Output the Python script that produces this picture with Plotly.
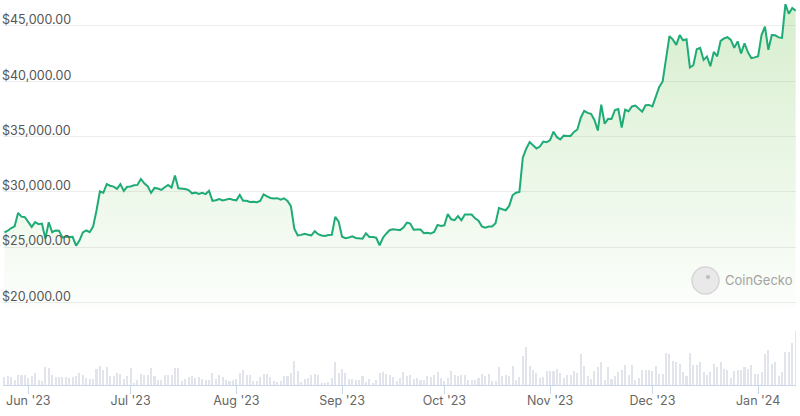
import pandas as pd
import plotly.graph_objects as go

# ---- data ----
start_date = "2023-05-25"

price_usd = [
    26330, 26480, 26720, 26870, 28090, 27750, 27700, 27220,
    26820, 27250, 27070, 27120, 25760, 27240, 26340, 26500, 26480, 25850,
    25940, 25900, 25920, 25120, 25580, 26330, 26510, 26340, 26850, 28310,
    30030, 29910, 30700, 30550, 30470, 30270, 30690, 30080, 30450, 30480,
    30590, 30620, 31160, 30770, 30510, 29900, 30350, 30290, 30170, 30410,
    30620, 30390, 31480, 30320, 30300, 30250, 30150, 29860, 29920, 29800,
    29910, 29790, 30080, 29180, 29230, 29350, 29220, 29320, 29360, 29280,
    29230,
    29710, 29190, 29180, 29070, 29090, 29060, 29180, 29770, 29580, 29440,
    29400, 29420, 29280, 29410, 29170, 28700, 26660, 26050, 26100, 26190,
    26120, 26050, 26430, 26160, 26050, 26000, 26090, 26110, 27730, 27300,
    25930,
    25800, 25870, 25970, 25820, 25790, 25760, 26240, 25910, 25900, 25840,
    25160, 25840, 26230, 26540, 26610, 26570, 26530, 26760, 27210, 27130,
    26570, 26580, 26580, 26250, 26300, 26220, 26370, 26990, 26910, 26970,
    27990, 27510, 27430, 27800, 27420, 27950, 27970, 27940, 27600, 27390,
    26870, 26760, 26860, 26860, 27160, 28520, 28420, 28330, 28720, 29680,
    29920, 29990, 33090, 33900, 34500, 34160, 33910, 34090, 34540, 34480,
    34670,
    35440, 34940, 34730, 35080, 35050, 35050, 35420, 35640, 36700, 37320,
    37140, 37060, 36500, 35540, 37880, 36160, 36600, 36580, 37390, 37480,
    35810, 37420, 37290, 37720, 37800, 37480, 37250, 37830, 37860, 37720,
    38690, 39480, 39980, 41990, 44080, 43770, 43290, 44170, 43710, 43790,
    41240, 41450, 42890, 43020, 41930, 42240, 41360, 42660, 42260, 43650,
    43870, 43990, 43740, 43020, 43610, 42520, 43440, 42630, 42100, 42160,
    42260,
    44180, 44950, 42850, 44180, 44160, 43970, 43930, 46970, 46110, 46630,
    46370,
]

volume_bn = [
    8.0,
    8.7, 8.0, 4.7, 10.3, 10.3, 10.3, 7.0, 9.3, 12.0, 5.3, 4.3, 17.7, 17.0, 9.7,
    8.0, 8.0, 8.0, 8.0, 7.0, 8.0, 9.3, 12.0, 10.3, 7.0, 6.0, 6.0, 16.0, 18.7,
    15.3, 18.0, 9.3, 9.3, 12.0, 11.3, 6.0, 8.7, 17.0, 2.0, 4.7, 11.0, 9.7, 10.3,
    17.0, 9.3, 4.7, 5.3, 9.7, 10.3, 10.3, 17.0, 17.0, 4.3, 6.0, 8.0, 9.3, 7.0,
    8.0, 6.0, 5.3, 5.3, 12.0, 6.0, 10.3, 8.0, 5.3, 4.3, 5.3, 6.0, 12.0, 15.3,
    10.3, 9.7, 3.7, 3.7, 8.0, 11.3, 11.3, 8.0, 3.7, 2.7, 3.7, 9.3, 9.3, 12.0,
    24.3, 13.7, 2.7, 6.0, 7.0, 10.3, 11.3, 10.3, 2.0, 2.0, 2.7, 7.0, 23.0, 12.0,
    16.3, 12.0, 6.0, 6.0, 5.3, 5.3, 8.7, 2.7, 6.0, 2.0, 4.7, 12.0, 13.0, 11.3,
    9.7, 8.0, 3.7, 7.0,
    13.0, 9.3, 10.3, 6.0, 7.0, 4.7, 5.3, 9.3, 7.7, 10.3, 13.0, 7.0, 4.3, 7.0,
    14.3, 10.3, 8.7, 10.3, 10.3, 5.3, 5.3, 5.3, 7.0, 11.3, 8.7, 11.3, 4.3, 4.3,
    18.0, 8.7, 10.3, 8.7, 19.3, 5.3, 8.0, 29.3, 38.0, 19.3, 14.7, 12.0, 7.0, 8.0,
    13.7, 13.7, 14.3, 16.3, 12.0, 7.0, 10.3, 10.3, 14.3, 12.0, 31.3, 18.7, 9.3,
    6.0, 13.7, 18.0, 23.0, 5.3, 18.0, 6.0, 9.3, 13.0, 15.3, 20.3, 10.3, 19.7,
    5.3, 7.0, 14.7, 15.3, 15.3, 13.7, 19.3, 11.3, 11.3, 32.0, 31.0, 24.3, 23.0,
    21.0, 13.0, 9.3, 32.0, 20.3, 20.3, 23.0, 13.0, 10.3, 13.0, 21.0, 18.0, 23.0,
    16.3, 15.3, 7.0, 13.7, 15.3, 15.3, 18.0, 16.0, 20.3, 11.3, 11.3, 13.0, 31.3,
    35.3, 21.3, 23.0, 9.3, 12.7, 33.0, 32.7, 42.0, 53.7,
]

dates = pd.date_range(start_date, periods=len(price_usd), freq="D")

tick_dates = ["2023-06-01", "2023-07-01", "2023-08-01", "2023-09-01",
              "2023-10-01", "2023-11-01", "2023-12-01", "2024-01-01"]
tick_labels = ["Jun '23", "Jul '23", "Aug '23", "Sep '23",
               "Oct '23", "Nov '23", "Dec '23", "Jan '24"]
price_ticks = [20000, 25000, 30000, 35000, 40000, 45000]

# ---- figure ----
fig = go.Figure()

fig.add_trace(go.Bar(
    x=dates, y=volume_bn, yaxis="y2",
    marker=dict(color="#e1e5eb", line=dict(width=0)),
    width=0.6 * 86400000,
    hoverinfo="skip",
))

fig.add_trace(go.Scatter(
    x=dates, y=price_usd, yaxis="y",
    mode="lines",
    line=dict(color="#1fab76", width=2),
    fill="tozeroy",
    fillgradient=dict(
        type="vertical",
        start=19300, stop=47350,
        colorscale=[[0, "rgba(120,198,90,0.02)"],
                     [1, "rgba(120,198,90,0.30)"]],
    ),
    hoverinfo="skip",
))

fig.update_layout(
    width=800, height=416,
    margin=dict(l=3, r=4, t=0, b=31),
    paper_bgcolor="white", plot_bgcolor="white",
    showlegend=False,
    bargap=0,
    font=dict(family="Inter, Roboto, sans-serif", size=12, color="#555"),
    xaxis=dict(
        type="date",
        range=["2023-05-24 14:00", "2024-01-12 02:30"],
        anchor="y2",
        showgrid=False, zeroline=False,
        showline=True, linecolor="#ccd6eb", linewidth=1,
        ticks="outside", ticklen=8, tickcolor="#ccd6eb", tickwidth=1,
        tickvals=tick_dates, ticktext=tick_labels,
        tickfont=dict(size=12.5, color="#666666"),
        ticklabelstandoff=-4,
    ),
    yaxis=dict(
        domain=[0.1948, 1],
        range=[19303, 47352],
        tickvals=price_ticks,
        tickformat="$,.2f",
        side="right",
        anchor="free",
        position=0,
        ticklabelshift=-6,
        ticklabelstandoff=-2,
        tickfont=dict(size=12.5, color="#555555"),
        showgrid=True, gridcolor="#ededed", gridwidth=1,
        zeroline=False, showline=False, ticks="",
    ),
    yaxis2=dict(
        domain=[0, 0.2],
        range=[0, 77],
        visible=False,
        showgrid=False, zeroline=False,
    ),
    shapes=[
        dict(type="circle", xref="paper", yref="paper",
             x0=(692 - 3) / 793, x1=(719 - 3) / 793,
             y0=(385 - 294) / 385, y1=(385 - 267) / 385,
             fillcolor="#e9e9e9", line=dict(color="#d6d6d6", width=1.5),
             layer="above"),
        dict(type="circle", xref="paper", yref="paper",
             x0=(706 - 3) / 793, x1=(710 - 3) / 793,
             y0=(385 - 279) / 385, y1=(385 - 275) / 385,
             fillcolor="#bdbdbd", line=dict(width=0), layer="above"),
    ],
    annotations=[
        dict(text="CoinGecko", xref="paper", yref="paper",
             x=(723 - 3) / 793, y=(385 - 280) / 385,
             xanchor="left", yanchor="middle", showarrow=False,
             font=dict(size=13, color="#a3a3a3")),
    ],
)

fig.write_html("out.html", config={"displayModeBar": False})
